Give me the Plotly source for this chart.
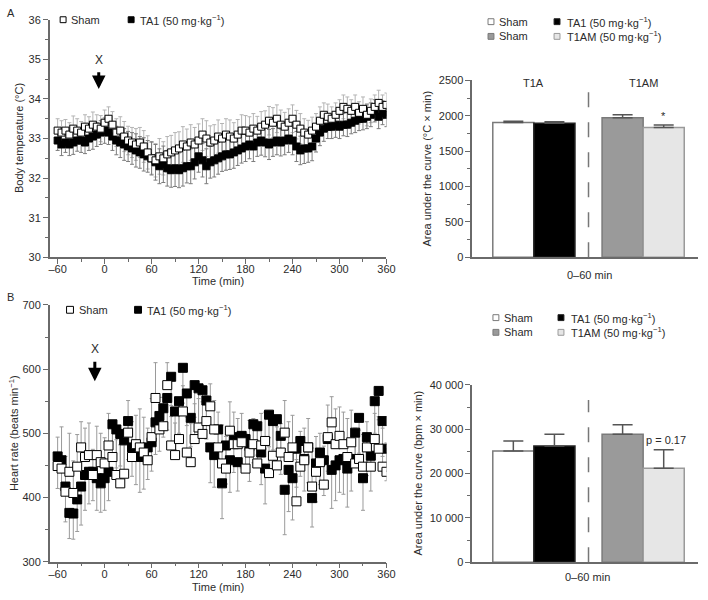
import plotly.graph_objects as go

# ---------------- data ----------------
TIME = list(range(-60, 361, 5))

TEMP_SHAM = [
    33.2, 33.15, 33.2, 33.1, 33.25, 33.2, 33.15, 33.3, 33.25, 33.35, 33.3, 33.25,
    33.4, 33.5, 33.35, 33.15, 33.2, 33.05, 32.95, 32.9, 32.85, 32.9, 32.8, 32.65,
    32.5, 32.45, 32.55, 32.5, 32.6, 32.65, 32.7, 32.75, 32.85, 32.8, 32.9, 32.85,
    32.95, 33.1, 33.0, 32.9, 32.95, 33.05, 33.0, 33.1, 33.05, 33.0, 33.1, 33.2,
    33.2, 33.15, 33.25, 33.2, 33.3, 33.35, 33.45, 33.4, 33.5, 33.35, 33.3, 33.4,
    33.5, 33.35, 33.25, 33.15, 33.1, 33.2, 33.3, 33.45, 33.6, 33.55, 33.5, 33.6,
    33.7, 33.8, 33.75, 33.7, 33.8, 33.65, 33.75, 33.6, 33.7, 33.8, 33.9, 33.8,
    33.85]
TEMP_SHAM_ERR = [
    0.3, 0.3, 0.28, 0.3, 0.32, 0.3, 0.28, 0.3, 0.3, 0.32, 0.3, 0.33,
    0.32, 0.3, 0.33, 0.35, 0.35, 0.38, 0.36, 0.38, 0.4, 0.38, 0.4, 0.42,
    0.4, 0.42, 0.45, 0.42, 0.45, 0.43, 0.45, 0.42, 0.45, 0.44, 0.45, 0.43,
    0.42, 0.4, 0.45, 0.42, 0.4, 0.42, 0.38, 0.4, 0.42, 0.4, 0.38, 0.4,
    0.38, 0.4, 0.38, 0.36, 0.38, 0.35, 0.36, 0.38, 0.35, 0.37, 0.36, 0.35,
    0.35, 0.36, 0.38, 0.35, 0.36, 0.34, 0.33, 0.35, 0.3, 0.32, 0.3, 0.3,
    0.28, 0.3, 0.3, 0.28, 0.3, 0.28, 0.3, 0.28, 0.3, 0.3, 0.32, 0.3,
    0.3]
TEMP_TA1 = [
    32.95, 32.85, 32.9, 32.85, 32.9, 32.95, 32.95, 32.9, 33.0, 33.05, 33.1, 33.15,
    33.2, 33.15, 33.05, 32.95, 32.9, 32.85, 32.8, 32.75, 32.7, 32.65, 32.6, 32.55,
    32.5, 32.4, 32.3, 32.35, 32.25, 32.2, 32.25, 32.2, 32.25, 32.3, 32.3, 32.4,
    32.55, 32.45, 32.3, 32.4, 32.45, 32.5, 32.55, 32.6, 32.6, 32.65, 32.7, 32.75,
    32.8, 32.85, 32.8, 32.9, 32.95, 32.9, 32.85, 32.9, 32.95, 32.9, 32.95, 33.0,
    32.95, 32.8, 32.7, 32.75, 32.75, 32.8, 33.0, 33.15, 33.25, 33.3, 33.3, 33.35,
    33.3, 33.35, 33.35, 33.4, 33.45, 33.5, 33.5, 33.55, 33.6, 33.7, 33.55, 33.65,
    33.6]
TEMP_TA1_ERR = [
    0.25, 0.28, 0.25, 0.28, 0.3, 0.27, 0.3, 0.28, 0.3, 0.32, 0.3, 0.3,
    0.32, 0.3, 0.35, 0.36, 0.38, 0.4, 0.38, 0.4, 0.42, 0.4, 0.42, 0.4,
    0.42, 0.45, 0.44, 0.46, 0.45, 0.43, 0.46, 0.44, 0.45, 0.42, 0.44, 0.42,
    0.4, 0.42, 0.44, 0.4, 0.42, 0.4, 0.38, 0.4, 0.38, 0.4, 0.38, 0.37,
    0.38, 0.36, 0.38, 0.35, 0.37, 0.36, 0.38, 0.35, 0.36, 0.34, 0.36, 0.35,
    0.36, 0.38, 0.36, 0.38, 0.35, 0.36, 0.34, 0.33, 0.32, 0.3, 0.3, 0.32,
    0.3, 0.28, 0.3, 0.28, 0.3, 0.3, 0.28, 0.3, 0.3, 0.28, 0.3, 0.3,
    0.3]

HR_SHAM = [
    449, 445, 409, 440, 407, 448, 478, 463, 466, 435, 466, 455,
    453, 481, 463, 435, 422, 437, 501, 463, 483, 478, 470, 458,
    494, 555, 506, 511, 575, 481, 466, 491, 534, 470, 455, 491,
    509, 499, 519, 542, 506, 478, 453, 445, 504, 483, 483, 486,
    445, 470, 483, 453, 481, 488, 438, 465, 450, 470, 501, 463,
    478, 394, 448, 458, 478, 417, 440, 455, 420, 494, 517, 483,
    496, 483, 463, 486, 453, 460, 448, 478, 448, 491, 476, 448,
    440]
HR_SHAM_ERR = [
    45, 65, 55, 60, 50, 50, 40, 45, 50, 40, 45, 45,
    40, 50, 45, 55, 60, 45, 50, 55, 45, 60, 55, 50,
    60, 55, 50, 45, 35, 45, 50, 60, 40, 55, 60, 55,
    45, 50, 40, 35, 45, 55, 60, 50, 45, 50, 40, 45,
    55, 50, 40, 60, 50, 45, 55, 50, 60, 45, 50, 55,
    50, 65, 55, 50, 45, 60, 55, 45, 60, 50, 40, 55,
    45, 50, 60, 50, 55, 45, 50, 40, 45, 40, 50, 60,
    45]
HR_TA1 = [
    464, 458, 417, 376, 375, 397, 417, 435, 440, 440, 430, 422,
    430, 440, 514, 506, 499, 489, 519, 478, 470, 463, 473, 478,
    486, 517, 527, 539, 555, 588, 534, 550, 602, 562, 524, 575,
    570, 567, 551, 478, 466, 506, 422, 481, 458, 494, 455, 496,
    491, 480, 514, 511, 470, 445, 529, 519, 522, 496, 412, 443,
    430, 476, 488, 460, 478, 399, 453, 470, 458, 491, 443, 450,
    458, 460, 445, 460, 501, 524, 430, 494, 465, 550, 566, 519,
    476]
HR_TA1_ERR = [
    50, 45, 55, 40, 40, 50, 60, 55, 50, 45, 50, 45,
    50, 45, 55, 60, 50, 55, 60, 45, 50, 55, 60, 50,
    45, 50, 55, 45, 50, 45, 60, 50, 55, 50, 45, 50,
    55, 50, 60, 55, 50, 45, 55, 60, 50, 55, 45, 50,
    50, 55, 60, 45, 50, 55, 50, 45, 55, 60, 70, 65,
    65, 60, 55, 50, 55, 45, 60, 50, 55, 50, 60, 55,
    50, 55, 60, 50, 45, 55, 50, 60, 55, 50, 45, 55,
    50]

GROUPS = ["T1A", "T1AM"]
BAR_NAMES = ["Sham", "TA1 (50 mg·kg<sup>−1</sup>)", "Sham", "T1AM (50 mg·kg<sup>−1</sup>)"]
AUC_TEMP = [1905, 1895, 1972, 1835]
AUC_TEMP_ERR = [20, 20, 42, 36]
AUC_HR = [25100, 26200, 28900, 21200]
AUC_HR_ERR = [2250, 2650, 2100, 4200]

X_TICKS = [-60, 0, 60, 120, 180, 240, 300, 360]
X_TICKTEXT = ["–60", "0", "60", "120", "180", "240", "300", "360"]
HR_BAR_TICKS = [0, 10000, 20000, 30000, 40000]
HR_BAR_TICKTEXT = ["0", "10 000", "20 000", "30 000", "40 000"]

# ---------------- layout helpers ----------------
W, H = 708, 600
def PX(p): return p / W
def PY(p): return 1 - p / H

FONT = "Liberation Sans, Arial, sans-serif"
TXT = "#2b2b2b"
AX = "#6a6a6a"
BAR_POS = [1.82, 3.64, 6.66, 8.48]
BAR_W = 1.82
GROUP_POS = [2.73, 7.57]
DIVIDER = 5.15
BAR_FILL = ["#ffffff", "#000000", "#9a9a9a", "#e6e6e6"]
BAR_LINE = ["#7a7a7a", "#222222", "#7a7a7a", "#9a9a9a"]

fig = go.Figure()

def errbars(xa, ya, y, err, up, down, color):
    n = len(y)
    fig.add_trace(go.Scatter(
        x=TIME, y=y, mode="markers", xaxis=xa, yaxis=ya, showlegend=False, hoverinfo="skip",
        marker=dict(color="rgba(0,0,0,0)", size=1),
        error_y=dict(type="data", symmetric=False,
                     array=err if up else [0] * n,
                     arrayminus=err if down else [0] * n,
                     color=color, thickness=1, width=2)))

def markers(xa, ya, y, fill, size):
    fig.add_trace(go.Scatter(
        x=TIME, y=y, mode="markers", xaxis=xa, yaxis=ya, showlegend=False,
        marker=dict(symbol="square", size=size, color=fill,
                    line=dict(color="#000000", width=1))))

# Panel A left
errbars("x", "y", TEMP_SHAM, TEMP_SHAM_ERR, True, True, "#b4b4b4")
errbars("x", "y", TEMP_TA1, TEMP_TA1_ERR, True, True, "#7c7c7c")
markers("x", "y", TEMP_TA1, "#000000", 7)
markers("x", "y", TEMP_SHAM, "#ffffff", 7)

# Panel B left
errbars("x3", "y3", HR_SHAM, HR_SHAM_ERR, True, False, "#9a9a9a")
errbars("x3", "y3", HR_TA1, HR_TA1_ERR, False, True, "#9a9a9a")
markers("x3", "y3", HR_TA1, "#000000", 9)
markers("x3", "y3", HR_SHAM, "#ffffff", 9)

# Bars
for xa, ya, vals, errs in [("x2", "y2", AUC_TEMP, AUC_TEMP_ERR), ("x4", "y4", AUC_HR, AUC_HR_ERR)]:
    fig.add_trace(go.Bar(
        x=BAR_POS, y=vals, width=BAR_W, xaxis=xa, yaxis=ya, showlegend=False,
        marker=dict(color=BAR_FILL, line=dict(color=BAR_LINE, width=1.5)),
        error_y=dict(type="data", symmetric=False, array=errs, arrayminus=[0] * len(errs),
                     color="#555555", thickness=1.5, width=10)))

tickfont = dict(family=FONT, size=11, color=TXT)
base_axis = dict(showgrid=False, zeroline=False, showline=True, linecolor=AX, linewidth=1.5,
                 ticks="outside", tickcolor=AX, tickwidth=1.2, ticklen=5, tickfont=tickfont)

left_x = dict(base_axis, domain=[PX(49.5), PX(391)], range=[-70, 360],
              tickmode="array", tickvals=X_TICKS, ticktext=X_TICKTEXT, ticklabelstandoff=-4,
              minor=dict(tickmode="linear", tick0=-60, dtick=30, ticks="outside", ticklen=3,
                         tickcolor=AX, tickwidth=1))
right_x = dict(showgrid=False, zeroline=False, showline=True, linecolor=AX, linewidth=1.5,
               showticklabels=False, ticks="", domain=[PX(478), PX(707)], range=[0, 10])

fig.update_layout(
    width=W, height=H, margin=dict(l=0, r=0, t=0, b=0),
    paper_bgcolor="white", plot_bgcolor="white",
    font=dict(family=FONT, size=11, color=TXT),
    xaxis=dict(left_x, anchor="y"),
    yaxis=dict(base_axis, domain=[PY(256.5), PY(14)], range=[30, 36], dtick=1, anchor="x",
               minor=dict(dtick=0.5, ticks="outside", ticklen=3, tickcolor=AX, tickwidth=1)),
    xaxis2=dict(right_x, anchor="y2"),
    yaxis2=dict(base_axis, domain=[PY(256.5), PY(76)], range=[0, 2500], dtick=500, anchor="x2",
                minor=dict(dtick=250, ticks="outside", ticklen=3, tickcolor=AX, tickwidth=1)),
    xaxis3=dict(left_x, anchor="y3"),
    yaxis3=dict(base_axis, domain=[PY(567), PY(305)], range=[300, 700], dtick=100, anchor="x3",
                minor=dict(dtick=50, ticks="outside", ticklen=3, tickcolor=AX, tickwidth=1)),
    xaxis4=dict(right_x, anchor="y4"),
    yaxis4=dict(base_axis, domain=[PY(567.5), PY(386.7)], range=[0, 40000], anchor="x4",
                tickmode="array", tickvals=HR_BAR_TICKS, ticktext=HR_BAR_TICKTEXT,
                minor=dict(tickmode="linear", tick0=0, dtick=5000, ticks="outside", ticklen=3,
                           tickcolor=AX, tickwidth=1)),
)

shapes = []
shapes.append(dict(type="line", xref="x2", yref="y2", x0=DIVIDER, x1=DIVIDER, y0=0, y1=2360,
                   line=dict(color="#777777", width=1.5, dash="15px,15px")))
shapes.append(dict(type="line", xref="x4", yref="y4", x0=DIVIDER, x1=DIVIDER, y0=0, y1=36600,
                   line=dict(color="#777777", width=1.5, dash="15px,15px")))

annotations = []
def txt(x, y, s, xanchor="left", size=11, angle=0, yanchor="middle"):
    annotations.append(dict(x=PX(x), y=PY(y), xref="paper", yref="paper", text=s,
                            showarrow=False, xanchor=xanchor, yanchor=yanchor, textangle=angle,
                            font=dict(family=FONT, size=size, color=TXT)))

def square(cx, cy, fill, line, s=6):
    shapes.append(dict(type="rect", xref="paper", yref="paper",
                       x0=PX(cx - s / 2), x1=PX(cx + s / 2), y0=PY(cy + s / 2), y1=PY(cy - s / 2),
                       fillcolor=fill, line=dict(color=line, width=1)))

txt(4, 7, "A")
txt(4, 297, "B")

square(63, 14, "#ffffff", "#000000")
txt(69, 14, "Sham")
square(132, 14, "#000000", "#000000")
txt(139, 14, BAR_NAMES[1])
square(70, 310, "#ffffff", "#000000", 7)
txt(77, 310, "Sham")
square(139, 310, "#000000", "#000000", 7)
txt(146, 310, BAR_NAMES[1])

for (x1, x2, y1, y2) in [(497, 564, 16, 31), (502, 568, 318, 333)]:
    square(x1, y1, BAR_FILL[0], BAR_LINE[0])
    txt(x1 + 6, y1, BAR_NAMES[0])
    square(x2, y1, BAR_FILL[1], BAR_LINE[1])
    txt(x2 + 8, y1, BAR_NAMES[1])
    square(x1, y2, BAR_FILL[2], BAR_LINE[2])
    txt(x1 + 6, y2, BAR_NAMES[2])
    square(x2, y2, BAR_FILL[3], BAR_LINE[3])
    txt(x2 + 8, y2, BAR_NAMES[3])

txt(220, 281, "Time (min)", xanchor="center")
txt(220, 593, "Time (min)", xanchor="center")
txt(597, 275, "0–60 min", xanchor="center")
txt(595, 583, "0–60 min", xanchor="center")
txt(19, 135, "Body temperature (°C)", xanchor="center", angle=-90)
txt(13, 436, "Heart rate (beats min<sup>−1</sup>)", xanchor="center", angle=-90)
txt(432, 166, "Area under the curve (°C × min)", xanchor="center", angle=-90)
txt(423, 477, "Area under the curve (bpm × min)", xanchor="center", angle=-90)

for i, g in enumerate(GROUPS):
    annotations.append(dict(x=GROUP_POS[i], y=2460, xref="x2", yref="y2", text=g, showarrow=False,
                            font=dict(family=FONT, size=11, color=TXT)))
    annotations.append(dict(x=GROUP_POS[i], y=41000, xref="x4", yref="y4", text=g, showarrow=False,
                            font=dict(family=FONT, size=11, color=TXT)))

annotations.append(dict(x=BAR_POS[3], y=AUC_TEMP[3] + AUC_TEMP_ERR[3] + 15, xref="x2", yref="y2",
                        text="*", showarrow=False, yanchor="bottom",
                        font=dict(family=FONT, size=11, color=TXT)))
annotations.append(dict(x=BAR_POS[2] + BAR_W / 2 + 0.05, y=27600, xref="x4", yref="y4",
                        text="p = 0.17", showarrow=False, xanchor="left",
                        font=dict(family=FONT, size=11, color=TXT)))

for xa, ya, xv, yhead, ytext in [("x", "y", -7.5, 34.25, 34.99), ("x3", "y3", -12.5, 581, 631)]:
    annotations.append(dict(x=xv, y=yhead, xref=xa, yref=ya, ax=xv, ay=ytext, axref=xa, ayref=ya,
                            text="X", showarrow=True, arrowhead=2, arrowsize=0.9, arrowwidth=3,
                            arrowcolor="#000000", startstandoff=4,
                            font=dict(family=FONT, size=12, color=TXT)))

fig.update_layout(shapes=shapes, annotations=annotations)
fig.write_html("out.html", config={"displayModeBar": False},
               post_script="document.body.style.margin='0px';document.body.style.padding='0px';")
